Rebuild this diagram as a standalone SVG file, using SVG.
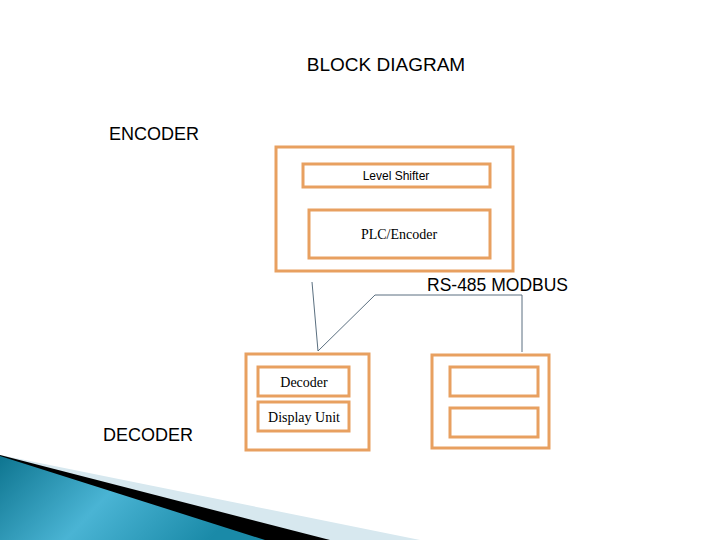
<svg xmlns="http://www.w3.org/2000/svg" width="720" height="540" viewBox="0 0 720 540">
<defs>
<linearGradient id="tg" x1="0" y1="0" x2="1" y2="0.3"><stop offset="0" stop-color="#0e7590"/><stop offset="0.5" stop-color="#4ab4d4"/><stop offset="1" stop-color="#1a8aa8"/></linearGradient>
<style>
.b{fill:#fff;stroke:#e8a060;stroke-width:3}
.s{font-family:"Liberation Serif",serif;font-size:14px;fill:#000;text-anchor:middle}
.h{font-family:"Liberation Sans",Arial,sans-serif;fill:#000}
.c{fill:none;stroke:#5a6f80;stroke-width:1}
</style>
</defs>
<rect width="720" height="540" fill="#fff"/>
<polygon points="0,455 420,540 0,540" fill="#d7e8ef"/>
<polygon points="0,455 330,540 0,540" fill="#000"/>
<polygon points="0,456 265,540 0,540" fill="url(#tg)"/>
<text class="h" x="386" y="71" font-size="19" text-anchor="middle">BLOCK DIAGRAM</text>
<text class="h" x="109" y="140" font-size="18">ENCODER</text>
<text class="h" x="103" y="441" font-size="18">DECODER</text>
<text class="h" x="427" y="291" font-size="17.5">RS-485 MODBUS</text>
<g id="connectors">
<polyline class="c" points="312,282 318,351"/>
<polyline class="c" points="318,351 375,295 522,295 522,352"/>
</g>
<g id="encoder">
<rect class="b" x="276" y="147" width="237" height="124"/>
</g>
<g id="level-shifter"><rect class="b" x="303" y="164" width="187" height="23"/><text x="396" y="180" font-family="Liberation Sans,sans-serif" font-size="12" text-anchor="middle">Level Shifter</text></g>
<g id="plc"><rect class="b" x="309" y="210" width="181" height="48"/><text class="s" x="399" y="239">PLC/Encoder</text></g>
<g id="decoder-unit"><rect class="b" x="246" y="354" width="123" height="96"/></g>
<g id="decoder"><rect class="b" x="258" y="367" width="91" height="29"/><text class="s" x="304" y="387">Decoder</text></g>
<g id="display"><rect class="b" x="258" y="402" width="91" height="29"/><text class="s" x="304" y="422">Display Unit</text></g>
<g id="unit2"><rect class="b" x="432" y="355" width="117" height="93"/></g>
<g id="unit2a"><rect class="b" x="450" y="367" width="88" height="29"/></g>
<g id="unit2b"><rect class="b" x="450" y="408" width="88" height="29"/></g>
</svg>
